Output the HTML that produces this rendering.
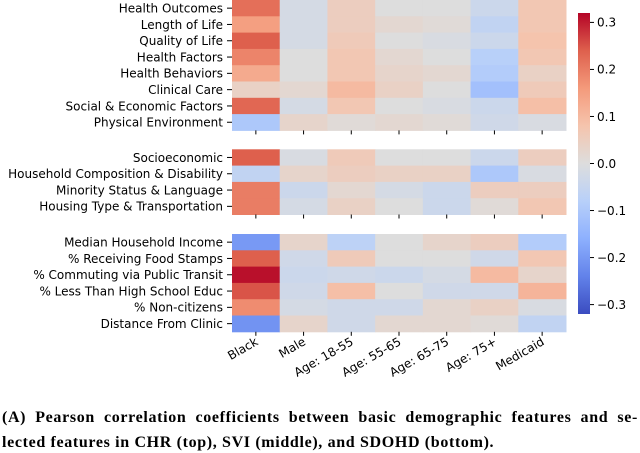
<!DOCTYPE html>
<html><head><meta charset="utf-8"><style>
body{margin:0;background:#fff;width:640px;height:452px;overflow:hidden;position:relative}
svg{display:block}
text{font-family:"DejaVu Sans","Liberation Sans",sans-serif}
.cap{position:absolute;left:2px;width:636px;font:bold 16px/20px "Liberation Serif",serif;letter-spacing:0.65px;color:#000;white-space:nowrap}
.l1{top:408px;text-align:justify;text-align-last:justify}
.l2{top:433px}
</style></head><body>
<svg id="chart" width="640" height="452"></svg>
<div class="cap l1">(A) Pearson correlation coefficients between basic demographic features and se-</div>
<div class="cap l2">lected features in CHR (top), SVI (middle), and SDOHD (bottom).</div>
<script>
const columns=["Black","Male","Age: 18-55","Age: 55-65","Age: 65-75","Age: 75+","Medicaid"];
const chrRows=["Health Outcomes","Length of Life","Quality of Life","Health Factors","Health Behaviors","Clinical Care","Social & Economic Factors","Physical Environment"];
const chrValues=[
[0.22,-0.02,0.05,0.0,0.0,-0.04,0.07],
[0.15,-0.02,0.05,0.02,0.01,-0.06,0.07],
[0.24,-0.02,0.06,0.0,-0.01,-0.04,0.08],
[0.19,0.0,0.07,0.02,0.0,-0.08,0.07],
[0.13,0.0,0.07,0.03,0.02,-0.09,0.04],
[0.04,0.02,0.10,0.04,0.0,-0.12,0.06],
[0.23,-0.02,0.07,0.0,-0.01,-0.04,0.09],
[-0.10,0.03,0.01,0.02,0.01,-0.03,-0.01]];
const sviRows=["Socioeconomic","Household Composition & Disability","Minority Status & Language","Housing Type & Transportation"];
const sviValues=[
[0.24,-0.01,0.06,0.0,0.0,-0.04,0.05],
[-0.06,0.03,0.05,0.04,0.04,-0.10,-0.01],
[0.20,-0.04,0.02,-0.02,-0.04,0.05,0.05],
[0.20,-0.02,0.04,0.0,-0.04,0.01,0.07]];
const sdohdRows=["Median Household Income","% Receiving Food Stamps","% Commuting via Public Transit","% Less Than High School Educ","% Non-citizens","Distance From Clinic"];
const sdohdValues=[
[-0.20,0.03,-0.07,0.0,0.03,0.05,-0.09],
[0.24,-0.03,0.06,0.0,0.0,-0.03,0.07],
[0.31,-0.04,-0.03,-0.04,-0.02,0.10,0.03],
[0.25,-0.03,0.09,0.0,-0.03,-0.03,0.11],
[0.18,-0.02,-0.03,-0.03,0.02,0.04,-0.01],
[-0.21,0.03,-0.03,0.02,0.02,0.01,-0.06]];
const cbarTicks=[0.3,0.2,0.1,0.0,-0.1,-0.2,-0.3];

const NS="http://www.w3.org/2000/svg";
const svg=document.getElementById('chart');
const vmin=-0.32,vmax=0.32;
const X0=232,X1=566,colW=(X1-X0)/columns.length,rowH=16.3;
const stops=[[59,76,192],[98,130,234],[141,176,254],[184,208,249],[221,221,221],[245,196,173],[244,154,123],[222,96,77],[180,4,38]];
function cmap(v){let t=(v-vmin)/(vmax-vmin);t=Math.max(0,Math.min(1,t))*8;let i=Math.min(7,Math.floor(t)),f=t-i;
const a=stops[i],b=stops[i+1];return 'rgb('+a.map((c,k)=>Math.round(c+(b[k]-c)*f)).join(',')+')';}
function xPos(j){return X0+j*colW;}
function mk(tag,attrs){const e=document.createElementNS(NS,tag);for(const k in attrs)e.setAttribute(k,attrs[k]);svg.appendChild(e);return e;}
function block(rows,vals,y0,name){
  vals.forEach((r,i)=>{r.forEach((v,j)=>{
    const c=mk('rect',{x:xPos(j),y:y0+i*rowH,width:colW+0.5,height:rowH+0.5,fill:cmap(v)});
    
    
  });
  const yc=y0+(i+0.5)*rowH;
  mk('line',{x1:X0-5,x2:X0,y1:yc,y2:yc,stroke:'#000','stroke-width':1});
  const t=mk('text',{x:X0-9,y:yc+4.3,'text-anchor':'end','font-size':12});
  t.textContent=rows[i];
  
  
  });
  const yb=y0+rows.length*rowH;
  columns.forEach((c,j)=>{const xc=xPos(j)+colW/2;mk('line',{x1:xc,x2:xc,y1:yb,y2:yb+4,stroke:'#000','stroke-width':1});});
}
block(chrRows,chrValues,0,'chr');
block(sviRows,sviValues,149.3,'svi');
block(sdohdRows,sdohdValues,234,'sdohd');
columns.forEach((c,j)=>{const xc=xPos(j)+colW/2+3;
  const t=mk('text',{x:xc,y:344,'text-anchor':'end','font-size':12,transform:'rotate(-30 '+xc+' 344)'});
  t.textContent=c;
  
  
});
const CB_X=578,CB_W=12,CB_T=13,CB_B=314;
function cy(v){return CB_T+(vmax-v)/(vmax-vmin)*(CB_B-CB_T);}
const defs=mk('defs',{});
const g=document.createElementNS(NS,'linearGradient');g.setAttribute('id','cbg');g.setAttribute('x1',0);g.setAttribute('y1',1);g.setAttribute('x2',0);g.setAttribute('y2',0);
defs.appendChild(g);
for(let k=0;k<=16;k++){const s=document.createElementNS(NS,'stop');s.setAttribute('offset',k/16);s.setAttribute('stop-color',cmap(vmin+(vmax-vmin)*k/16));g.appendChild(s);}
const cb=mk('rect',{x:CB_X,y:CB_T,width:CB_W,height:CB_B-CB_T,fill:'url(#cbg)'});


cbarTicks.forEach(v=>{const y=cy(v);mk('line',{x1:CB_X+CB_W,x2:CB_X+CB_W+4,y1:y,y2:y,stroke:'#000'});
  const t=mk('text',{x:CB_X+CB_W+7,y:y+4.3,'font-size':12});
  t.textContent=(v<0?'\u2212':'')+Math.abs(v).toFixed(1);
  
  
});
</script>
</body></html>
